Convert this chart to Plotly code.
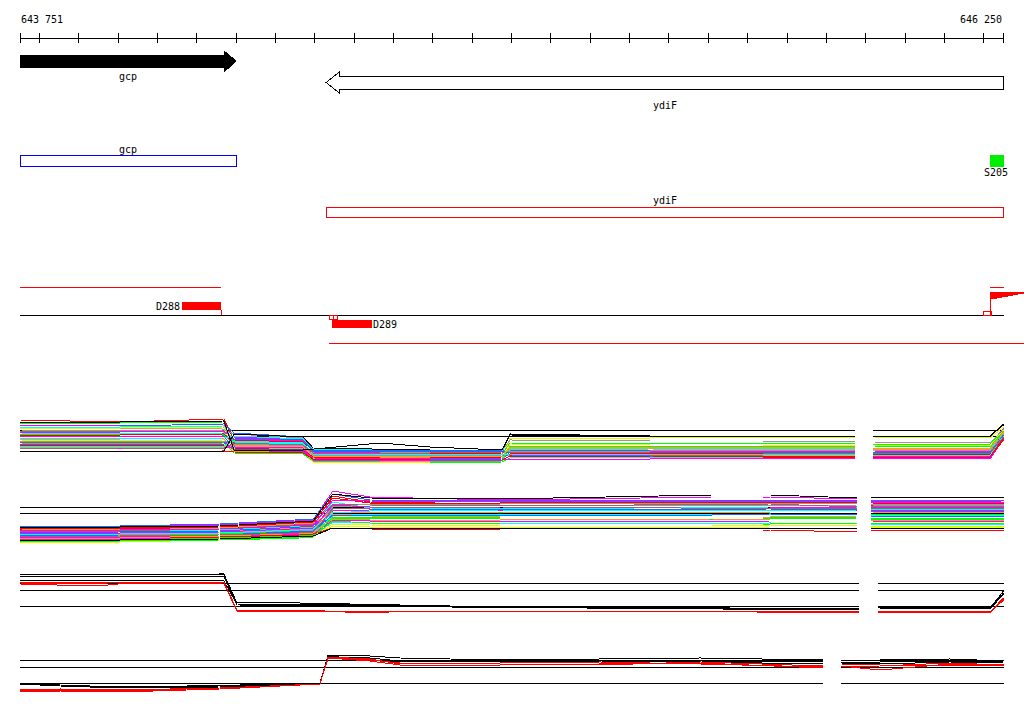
import plotly.graph_objects as go

W, H = 1024, 714

# ---------------- genomic window / ruler ----------------
region_start = 643751
region_end = 646250
ruler_labels = ["643 751", "646 250"]
ruler_ticks = [643751, 643800, 643900, 644000, 644100, 644200, 644300, 644400, 644500,
               644600, 644700, 644800, 644900, 645000, 645100, 645200, 645300, 645400,
               645500, 645600, 645700, 645800, 645900, 646000, 646100, 646200, 646250]

# ---------------- annotation features ----------------
gene_names = ["gcp", "ydiF"]
gene_start = [643751, 644529]
gene_end = [644300, 646250]
gene_strand = ["+", "-"]

cds_names = ["gcp", "ydiF", "S205"]
cds_start = [643751, 644529, 646218]
cds_end = [644300, 646250, 646250]

probe_names = ["D288", "D289"]
probe_start = [644163, 644544]
probe_end = [644262, 644645]
probe_strand = ["+", "-"]

transcript_plus_start = [643751, 646216]
transcript_plus_end = [644262, 646250]
transcript_minus_start = [644537]
transcript_minus_end = [646302]

start_site_x = [646216, 646233, 646247, 646261, 646274, 646288, 646302]
start_site_depth = [7, 6, 5, 4, 3, 2]

# ---------------- expression tracks ----------------
N = None
track1_x = [643751, 644005, 644269, 644295, 644470, 644496, 644666, 644793, 644976,
            644996, 645352, 645873, 645895, 645918, 646216, 646250]
track1_ref = [3.97, 3.37]
track1_colors = ["red", "lime", "blue", "magenta", "cyan", "orange", "yellow", "gray",
                 "brown", "magenta", "cyan", "lime", "red", "blue", "magenta", "orange",
                 "cyan", "yellow", "gray", "magenta", "lime", "blue", "red", "cyan",
                 "orange", "magenta", "brown", "red"]
track1_values = [
    [5.0, 4.8, 5.1, 3.0, 2.8, 1.6, 1.5, 1.5, 1.6, 1.6, 1.5, 1.6, N, 1.5, 1.5, 3.6],
    [4.7, 4.7, 4.8, 2.0, 1.8, 0.8, 0.7, 0.7, 0.8, 1.2, 1.3, 1.2, N, 1.2, 1.2, 3.2],
    [4.5, 4.4, 4.6, 3.7, 3.3, 2.0, 2.0, 2.0, 2.0, 2.0, 2.0, 2.0, N, 2.0, 2.0, 4.0],
    [4.4, 4.5, 4.5, 2.6, 2.5, 1.5, 1.4, 1.3, 1.4, 1.4, 1.4, 1.3, N, 1.3, 1.3, 3.8],
    [4.3, 4.3, 4.4, 2.8, 2.6, 1.7, 1.7, 1.6, 1.7, 1.7, 1.7, 1.7, N, 1.7, 1.7, 3.9],
    [4.2, 4.1, 4.2, 2.4, 2.2, 1.3, 1.3, 1.2, 1.3, 1.6, 1.6, 1.6, N, 1.6, 1.6, 3.5],
    [4.1, 4.2, 4.3, 2.2, 2.0, 1.0, 0.9, 0.9, 1.0, 3.2, 3.2, 3.3, N, 3.3, 3.2, 4.3],
    [4.0, 3.9, 4.0, 3.6, 3.2, 1.8, 1.8, 1.8, 1.9, 3.0, 2.9, 2.9, N, 2.8, 2.7, 4.1],
    [3.9, 3.9, 3.8, 2.5, 2.3, 1.4, 1.3, 1.3, 1.4, 1.5, 1.5, 1.5, N, 1.4, 1.4, 3.4],
    [3.8, 3.8, 3.9, 3.1, 2.9, 1.9, 1.9, 1.9, 1.9, 1.9, 1.9, 1.9, N, 1.9, 1.8, 4.2],
    [3.7, 3.6, 3.7, 2.3, 2.1, 1.2, 1.2, 1.1, 1.2, 2.0, 2.1, 2.0, N, 2.0, 2.0, 3.7],
    [3.6, 3.6, 3.5, 2.9, 2.7, 1.6, 1.5, 1.5, 1.6, 2.7, 2.7, 2.6, N, 2.6, 2.6, 3.9],
    [3.5, 3.5, 3.6, 2.7, 2.5, 1.7, 1.6, 1.6, 1.7, 1.7, 1.6, 1.7, N, 1.6, 1.6, 3.6],
    [3.4, 3.3, 3.4, 2.1, 1.9, 1.1, 1.1, 1.0, 1.1, 1.8, 1.8, 1.8, N, 1.8, 1.8, 3.7],
    [3.3, 3.4, 3.3, 3.3, 3.0, 1.8, 1.7, 1.7, 1.8, 1.5, 1.4, 1.4, N, 1.4, 1.4, 3.5],
    [3.2, 3.2, 3.1, 1.9, 1.7, 0.9, 0.9, 0.8, 0.9, 2.2, 2.2, 2.1, N, 2.1, 2.1, 3.8],
    [3.1, 3.1, 3.2, 3.4, 3.1, 2.1, 2.0, 2.0, 2.0, 1.3, 1.3, 1.3, N, 1.3, 1.3, 3.3],
    [3.0, 2.9, 3.0, 1.8, 1.7, 0.8, 0.8, 0.8, 0.9, 2.6, 2.5, 2.5, N, 2.5, 2.4, 4.0],
    [2.9, 2.9, 2.9, 2.6, 2.4, 1.5, 1.5, 1.4, 1.5, 1.9, 1.9, 2.0, N, 2.0, 1.9, 3.6],
    [2.8, 2.8, 2.8, 2.0, 1.8, 1.2, 1.1, 1.1, 1.2, 1.2, 1.2, 1.2, N, 1.2, 1.2, 3.4],
    [2.7, 2.6, 2.7, 1.7, 1.6, 0.9, 0.8, 0.8, 0.9, 2.4, 2.4, 2.4, N, 2.4, 2.3, 3.9],
    [2.6, 2.6, 2.6, 3.2, 3.0, 1.9, 1.9, 1.8, 1.9, 1.7, 1.8, 1.8, N, 1.8, 1.7, 3.5],
    [2.5, 2.5, 2.4, 2.2, 2.0, 1.3, 1.2, 1.2, 1.3, 1.3, 1.4, 1.3, N, 1.3, 1.3, 3.2],
    [2.4, 2.4, 2.4, 2.9, 2.7, 1.6, 1.6, 1.5, 1.6, 1.6, 1.5, 1.5, N, 1.5, 1.5, 3.4],
    [2.3, 2.3, 2.3, 2.5, 2.3, 1.4, 1.4, 1.4, 1.4, 2.3, 2.3, 2.3, N, 2.2, 2.2, 3.7],
    [2.2, 2.1, 2.2, 2.3, 2.2, 1.0, 1.0, 1.0, 1.0, 1.1, 1.1, 1.2, N, 1.2, 1.1, 3.1],
    [2.1, 2.2, 2.1, 2.7, 2.5, 1.7, 1.7, 1.7, 1.8, 1.8, 1.7, 1.7, N, 1.7, 1.7, 3.3],
    [1.85, 1.8, 1.9, 1.8, 1.7, 1.1, 1.1, 1.0, 1.0, 1.4, 1.3, 1.3, N, 1.3, 1.3, 3.0],
]
track1_black = [
    [4.8, 4.8, 4.9, 2.0, 2.0, 2.1, 2.7, 2.3, 2.0, 3.6, 3.4, 3.4, N, 3.4, 3.4, 4.6],
    [1.9, 1.9, 1.9, 3.6, 3.3, 2.2, 2.1, 2.0, 2.0, 3.5, 3.4, 3.4, N, 3.4, 3.4, 4.5],
]

track2_x = [643751, 644005, 644259, 644462, 644496, 644546, 644640, 644971, 645509,
            645657, 645878, 645895, 645913, 646216, 646250]
track2_ref = [4.27, 3.67]
track2_colors = ["magenta", "blue", "lime", "red", "cyan", "orange", "yellow", "gray",
                 "brown", "magenta", "cyan", "lime", "red", "blue", "magenta", "orange",
                 "cyan", "yellow", "gray", "magenta", "lime", "blue", "red", "cyan",
                 "orange", "magenta", "brown", "lime"]
track2_values = [
    [2.3, 2.3, 2.5, 2.9, 3.0, 5.9, 5.3, 5.0, 5.3, 5.3, 5.1, N, 5.0, 5.0, 5.0],
    [2.4, 2.4, 2.6, 3.0, 3.1, 5.6, 5.0, 4.9, 5.0, 5.0, 4.9, N, 4.8, 4.9, 4.9],
    [1.0, 1.0, 1.2, 1.4, 1.5, 4.0, 3.8, 3.7, 3.8, 3.7, 3.7, N, 3.6, 3.6, 3.6],
    [2.0, 2.1, 2.2, 2.6, 2.7, 5.4, 4.8, 4.6, 4.6, 4.7, 4.6, N, 4.5, 4.5, 4.5],
    [1.8, 1.9, 2.0, 2.4, 2.5, 4.8, 4.2, 4.1, 4.3, 4.3, 4.2, N, 4.2, 4.2, 4.2],
    [1.6, 1.6, 1.8, 2.2, 2.3, 3.6, 3.4, 3.3, 3.3, 3.3, 3.4, N, 3.4, 3.3, 3.3],
    [0.8, 0.8, 1.0, 1.2, 1.3, 2.6, 2.5, 2.4, 2.4, 2.5, 2.4, N, 2.4, 2.4, 2.4],
    [1.5, 1.5, 1.6, 1.9, 2.0, 4.4, 4.4, 4.5, 4.4, 4.4, 4.5, N, 4.5, 4.4, 4.4],
    [1.9, 1.9, 2.1, 2.5, 2.6, 4.6, 4.5, 4.4, 4.5, 4.6, 4.3, N, 4.4, 4.4, 4.4],
    [1.3, 1.3, 1.4, 1.7, 1.8, 3.9, 4.0, 3.9, 4.0, 4.0, 3.9, N, 3.9, 3.9, 3.9],
    [1.2, 1.2, 1.4, 1.6, 1.7, 3.4, 3.6, 3.6, 3.6, 3.5, 3.6, N, 3.5, 3.5, 3.5],
    [1.4, 1.4, 1.6, 1.8, 1.9, 3.2, 3.2, 3.1, 3.0, 3.1, 3.2, N, 3.1, 3.1, 3.1],
    [2.2, 2.2, 2.3, 2.7, 2.8, 5.2, 4.7, 4.7, 4.8, 4.8, 4.7, N, 4.7, 4.6, 4.6],
    [1.7, 1.8, 1.9, 2.3, 2.4, 4.2, 4.1, 4.0, 4.1, 4.1, 4.0, N, 4.0, 4.0, 4.0],
    [1.1, 1.1, 1.3, 1.5, 1.6, 3.0, 2.9, 2.9, 2.8, 2.9, 2.9, N, 2.9, 2.8, 2.8],
    [2.1, 2.0, 2.2, 2.6, 2.7, 3.8, 3.7, 3.8, 3.7, 3.8, 3.8, N, 3.8, 3.7, 3.7],
    [0.9, 0.9, 1.1, 1.3, 1.4, 2.8, 2.7, 2.7, 2.6, 2.7, 2.6, N, 2.6, 2.6, 2.6],
    [1.0, 0.9, 1.1, 1.3, 1.4, 2.4, 2.3, 2.3, 2.2, 2.3, 2.3, N, 2.3, 2.3, 2.3],
    [1.6, 1.7, 1.7, 2.0, 2.1, 4.3, 4.6, 4.6, 4.7, 4.7, 4.6, N, 4.6, 4.6, 4.6],
    [2.0, 2.0, 2.1, 2.4, 2.5, 5.0, 4.9, 4.8, 4.9, 4.9, 4.8, N, 4.8, 4.8, 4.8],
    [0.9, 1.0, 1.1, 1.3, 1.4, 2.9, 2.7, 2.6, 2.6, 2.6, 2.7, N, 2.7, 2.7, 2.7],
    [1.4, 1.5, 1.5, 1.8, 1.9, 3.5, 3.5, 3.5, 3.5, 3.6, 3.5, N, 3.4, 3.4, 3.4],
    [1.1, 1.2, 1.3, 1.5, 1.6, 2.2, 2.1, 2.0, 2.0, 2.0, 1.8, N, 2.0, 2.0, 2.0],
    [1.5, 1.6, 1.7, 2.0, 2.1, 3.7, 3.9, 4.0, 3.9, 3.9, 4.0, N, 4.1, 4.1, 4.1],
    [1.2, 1.2, 1.4, 1.6, 1.7, 3.1, 3.0, 3.0, 3.1, 3.0, 3.0, N, 3.0, 3.0, 3.0],
    [1.7, 1.7, 1.8, 2.1, 2.2, 4.5, 4.3, 4.2, 4.2, 4.2, 4.3, N, 4.3, 4.3, 4.3],
    [1.3, 1.4, 1.5, 1.7, 1.8, 4.1, 4.2, 4.3, 4.2, 4.2, 4.1, N, 4.2, 4.2, 4.2],
    [0.8, 0.9, 1.0, 1.2, 1.3, 3.3, 3.3, 3.2, 3.2, 3.2, 3.3, N, 3.2, 3.2, 3.2],
]
track2_black = [
    [2.3, 2.3, 2.4, 2.8, 2.9, 5.6, 5.2, 5.1, 5.5, 5.5, 5.2, N, 5.3, 5.3, 5.3],
    [1.0, 1.0, 1.1, 1.3, 1.4, 2.2, 2.2, 2.2, 2.2, 2.2, 2.2, N, 2.2, 2.2, 2.2],
]

track3_x = [643751, 643845, 643975, 644000, 644269, 644302, 644462, 644590, 644844,
            645225, 645606, 645883, 645905, 645931, 646216, 646250]
track3_ref = [3.67, 2.97, 1.37]
track3_black = [
    [4.5, 4.5, 4.5, 4.57, 4.6, 1.73, 1.7, 1.6, 1.4, 1.3, 1.2, 1.1, N, 1.3, 1.2, 2.9],
    [4.4, 4.4, 4.4, 4.4, 4.4, 1.5, 1.5, 1.45, 1.3, 1.2, 1.1, 1.0, N, 1.2, 1.1, 2.6],
    [3.95, 3.95, 3.9, 3.9, 3.9, 1.6, 1.55, 1.5, 1.35, 1.25, 1.15, 1.05, N, 1.25, 1.15, 2.7],
]
track3_red = [
    [3.8, 3.8, 3.75, 3.8, 3.8, 1.0, 1.0, 0.8, 0.9, 0.9, 0.9, 0.8, N, 0.9, 0.8, 2.2],
    [3.6, 3.5, 3.5, 3.6, 3.7, 0.9, 0.9, 0.8, 0.8, 0.85, 0.85, 0.75, N, 0.8, 0.75, 2.0],
    [3.7, 3.65, 3.7, 3.7, 3.75, 0.95, 0.95, 0.78, 0.85, 0.9, 0.8, 0.78, N, 0.85, 0.8, 2.1],
]

track4_x = [643751, 643853, 644005, 644259, 644513, 644534, 644640, 644717, 644971,
            645225, 645479, 645791, 645815, 645837, 645936, 646114, 646250]
track4_ref = [3.97, 3.27, 1.67]
track4_black = [
    [1.7, 1.5, 1.3, 1.4, 1.65, 4.5, 4.4, 4.2, 4.0, 4.1, 4.2, 4.0, N, 4.0, 4.0, 4.1, 3.9],
    [1.6, 1.4, 1.2, 1.3, 1.6, 4.3, 4.2, 3.9, 3.8, 3.9, 3.8, 3.6, N, 3.7, 3.6, 3.8, 3.7],
    [1.7, 1.4, 1.3, 1.45, 1.7, 4.4, 4.0, 3.8, 3.9, 4.0, 3.9, 3.8, N, 3.8, 3.8, 3.9, 3.8],
]
track4_red = [
    [1.0, 1.1, 1.0, 1.2, 1.6, 4.3, 4.1, 3.6, 3.7, 3.8, 3.6, 3.3, N, 3.4, 3.0, 3.6, 3.6],
    [0.8, 0.9, 0.8, 1.1, 1.6, 4.2, 3.9, 3.5, 3.5, 3.6, 3.7, 3.2, N, 3.3, 3.4, 3.7, 3.5],
    [0.9, 1.0, 0.9, 1.2, 1.6, 4.2, 4.0, 3.7, 3.6, 3.5, 3.8, 3.4, N, 3.6, 3.5, 3.5, 3.4],
]

# ---------------- styling ----------------
PALETTE = {"red": "#ff0000", "lime": "#00ff00", "blue": "#1a6cff", "magenta": "#ff00ff",
           "cyan": "#00ffff", "orange": "#ff9933", "yellow": "#ddff00", "gray": "#999999",
           "brown": "#996666", "black": "#000000"}
FONT = "DejaVu Sans Mono"

# pixel layout of the four expression tracks (top, bottom, value span)
track_bands = {"y2": (405, 470, 6.5), "y3": (480, 550, 7.0),
               "y4": (565, 620, 5.5), "y5": (645, 700, 5.5)}

px_per_bp = 983.5 / (region_end - region_start)
x_range = [region_start - 20 / px_per_bp, region_start + 1004 / px_per_bp]

fig = go.Figure()


def line(xs, ys, color, yaxis):
    fig.add_trace(go.Scatter(x=xs, y=ys, mode="lines", yaxis=yaxis,
                             line=dict(color=PALETTE[color], width=1),
                             connectgaps=False, hoverinfo="skip", showlegend=False))


def ref_y(xs, gap_index, r):
    return [None if i == gap_index else r for i in range(len(xs))]


# track 1
for r in track1_ref:
    line(track1_x, ref_y(track1_x, 12, r), "black", "y2")
for c, v in zip(track1_colors, track1_values):
    line(track1_x, v, c, "y2")
for v in track1_black:
    line(track1_x, v, "black", "y2")

# track 2
for r in track2_ref:
    line(track2_x, ref_y(track2_x, 11, r), "black", "y3")
for c, v in zip(track2_colors, track2_values):
    line(track2_x, v, c, "y3")
for v in track2_black:
    line(track2_x, v, "black", "y3")

# track 3
for r in track3_ref:
    line(track3_x, ref_y(track3_x, 12, r), "black", "y4")
for v in track3_black:
    line(track3_x, v, "black", "y4")
for v in track3_red:
    line(track3_x, v, "red", "y4")

# track 4
for r in track4_ref:
    line(track4_x, ref_y(track4_x, 12, r), "black", "y5")
for v in track4_black:
    line(track4_x, v, "black", "y5")
for v in track4_red:
    line(track4_x, v, "red", "y5")

# ---------------- ruler ----------------
fig.add_trace(go.Scatter(x=ruler_ticks, y=[38] * len(ruler_ticks), mode="markers",
                         yaxis="y", hoverinfo="skip", showlegend=False,
                         marker=dict(symbol="line-ns", size=7,
                                     line=dict(color="black", width=1))))

shapes = []
shapes.append(dict(type="line", xref="x", yref="y", x0=region_start, x1=region_end,
                   y0=38, y1=38, line=dict(color="black", width=1)))

annotations = [
    dict(x=region_start - 1 / px_per_bp, y=19, text=ruler_labels[0], xanchor="left"),
    dict(x=region_end, y=19, text=ruler_labels[1], xanchor="right"),
]

# ---------------- gene arrows ----------------
head_bp = 12 / px_per_bp
for name, s, e, strand in zip(gene_names, gene_start, gene_end, gene_strand):
    if strand == "+":
        hs = e - head_bp
        path = (f"M {s},55 L {hs},55 L {hs},51 L {e},61 L {hs},72 L {hs},67 L {s},67 Z")
        shapes.append(dict(type="path", xref="x", yref="y", path=path,
                           fillcolor="black", line=dict(color="black", width=1)))
        annotations.append(dict(x=(s + e) / 2, y=76, text=name, xanchor="center"))
    else:
        hs = s + 13 / px_per_bp
        path = (f"M {s},82.5 L {hs},72 L {hs},76 L {e},76 L {e},89 L {hs},89 L {hs},93 Z")
        shapes.append(dict(type="path", xref="x", yref="y", path=path,
                           fillcolor="white", line=dict(color="black", width=1)))
        annotations.append(dict(x=(s + e) / 2, y=105, text=name, xanchor="center"))

# ---------------- CDS boxes ----------------
cds_style = {"gcp": ("#0000ff", "white", 155, 166, 149),
             "ydiF": ("#ff0000", "white", 207, 217, 200),
             "S205": ("#00ee00", "#00ee00", 155, 166, 172)}
for name, s, e in zip(cds_names, cds_start, cds_end):
    col, fill, y0, y1, ly = cds_style[name]
    shapes.append(dict(type="rect", xref="x", yref="y", x0=s, x1=e, y0=y0, y1=y1,
                       line=dict(color=col, width=1), fillcolor=fill))
    lx = (s + e) / 2 if name != "S205" else e - 8 / px_per_bp
    annotations.append(dict(x=lx, y=ly, text=name, xanchor="center"))

# ---------------- transcripts / probes ----------------
shapes.append(dict(type="line", xref="x", yref="y", x0=region_start, x1=region_end,
                   y0=315, y1=315, line=dict(color="black", width=1)))
for s, e in zip(transcript_plus_start, transcript_plus_end):
    shapes.append(dict(type="line", xref="x", yref="y", x0=s, x1=e, y0=287, y1=287,
                       line=dict(color="#ff0000", width=1)))
for s, e in zip(transcript_minus_start, transcript_minus_end):
    shapes.append(dict(type="line", xref="x", yref="y", x0=s, x1=e, y0=343, y1=343,
                       line=dict(color="#ff0000", width=1)))

for name, s, e, strand in zip(probe_names, probe_start, probe_end, probe_strand):
    if strand == "+":
        shapes.append(dict(type="rect", xref="x", yref="y", x0=s, x1=e, y0=302, y1=310,
                           fillcolor="#ff0000", line=dict(color="#ff0000", width=0)))
        shapes.append(dict(type="line", xref="x", yref="y", x0=e, x1=e, y0=310, y1=315,
                           line=dict(color="#ff0000", width=1)))
        annotations.append(dict(x=s, y=306, text=name, xanchor="right"))
    else:
        shapes.append(dict(type="rect", xref="x", yref="y", x0=s, x1=e, y0=320, y1=328,
                           fillcolor="#ff0000", line=dict(color="#ff0000", width=0)))
        for k in range(2):
            x0 = s - 3 / px_per_bp + k * 4 / px_per_bp
            shapes.append(dict(type="rect", xref="x", yref="y", x0=x0, x1=x0 + 4 / px_per_bp,
                               y0=315, y1=319, line=dict(color="#ff0000", width=1)))
        annotations.append(dict(x=e - 1 / px_per_bp, y=324, text=name, xanchor="left"))

# transcription start flag
tx0 = start_site_x[0]
shapes.append(dict(type="line", xref="x", yref="y", x0=tx0, x1=tx0, y0=292, y1=315,
                   line=dict(color="#ff0000", width=1)))
shapes.append(dict(type="rect", xref="x", yref="y", x0=tx0 - 7 / px_per_bp, x1=tx0 + 1 / px_per_bp,
                   y0=311, y1=315, line=dict(color="#ff0000", width=1)))
path = f"M {start_site_x[0]},292"
for i, d in enumerate(start_site_depth):
    path += f" L {start_site_x[i]},{292 + d} L {start_site_x[i + 1]},{292 + d}"
path += f" L {start_site_x[-1]},292 Z"
shapes.append(dict(type="path", xref="x", yref="y", path=path, fillcolor="#ff0000",
                   line=dict(color="#ff0000", width=0)))

for a in annotations:
    a.update(xref="x", yref="y", showarrow=False, yanchor="middle",
             font=dict(family=FONT, size=10, color="black"))

layout_axes = {}
for key, (top, bottom, span) in track_bands.items():
    name = "yaxis" + key[1:]
    layout_axes[name] = dict(domain=[1 - bottom / H, 1 - top / H], range=[0, span],
                             visible=False, fixedrange=True)

fig.update_layout(
    width=W, height=H,
    margin=dict(l=0, r=0, t=0, b=0),
    paper_bgcolor="white", plot_bgcolor="white",
    xaxis=dict(range=x_range, visible=False, fixedrange=True),
    yaxis=dict(range=[H, 0], domain=[0, 1], visible=False, fixedrange=True),
    shapes=shapes, annotations=annotations, showlegend=False,
    **layout_axes,
)

post = ("document.body.style.margin='0';"
        "var s=document.createElement('style');"
        "s.innerHTML='.scatterlayer path, .shapelayer path{shape-rendering:crispEdges}';"
        "document.head.appendChild(s);")
fig.write_html("out.html", config={"displayModeBar": False}, post_script=post)
